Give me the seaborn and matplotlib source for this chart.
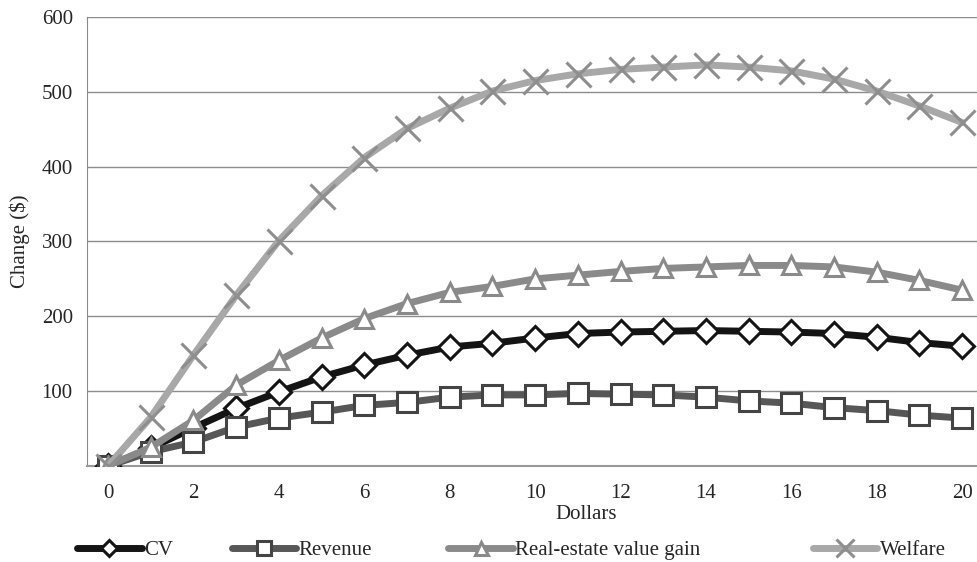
import matplotlib
matplotlib.use('Agg')
import matplotlib.pyplot as plt
import seaborn as sns
import numpy as np

# values
dollars = list(range(21))
cv = [0, 24, 51, 77, 99, 119, 135, 148, 159, 164, 171, 177, 179, 180, 181, 180, 179, 177, 172, 165, 160]
revenue = [0, 19, 32, 52, 64, 72, 81, 85, 92, 95, 95, 97, 96, 95, 92, 87, 84, 78, 74, 68, 64]
real_estate = [0, 25, 61, 108, 141, 171, 197, 217, 232, 240, 250, 255, 260, 264, 266, 268, 268, 266, 259, 248, 235]
welfare = [0, 65, 148, 228, 301, 361, 412, 451, 478, 501, 515, 524, 530, 533, 536, 533, 528, 517, 501, 481, 459]

series_names = ['CV', 'Revenue', 'Real-estate value gain', 'Welfare']
series_values = [cv, revenue, real_estate, welfare]

# stijl per reeks
line_colors = ['#141414', '#575757', '#8a8a8a', '#a8a8a8']
edge_colors = ['#141414', '#444444', '#8a8a8a', '#8e8e8e']
markers = ['D', 's', '^', 'x']
marker_sizes = [12, 14, 13, 18]

sns.set_style('white')
plt.rcParams['font.family'] = ['Liberation Serif', 'DejaVu Serif']

fig = plt.figure(figsize=(9.77, 5.62), dpi=100)
ax = fig.add_axes([0.0887, 0.1708, 0.918, 0.799])

for name, vals, lc, ec, mk, ms in zip(series_names, series_values, line_colors,
                                      edge_colors, markers, marker_sizes):
    sns.lineplot(x=dollars, y=vals, ax=ax, color=lc, linewidth=5, marker=mk,
                 markersize=ms, markerfacecolor='white', markeredgecolor=ec,
                 markeredgewidth=2.2, sort=False, label=name, zorder=3)

handles, labels = ax.get_legend_handles_labels()
ax.get_legend().remove()

ax.set_xlim(-0.5, 20.5)
ax.set_ylim(0, 600)
ax.set_xticks(range(0, 21, 2))
ax.set_xticks(np.arange(-0.5, 21, 1), minor=True)
ax.tick_params(axis='x', which='major', length=0, pad=13, labelsize=15)
ax.tick_params(axis='x', which='minor', length=6, width=1, color='#888888', direction='out')
ax.set_yticks(range(0, 601, 100))
ax.set_yticklabels([''] + [str(v) for v in range(100, 601, 100)])
ax.tick_params(axis='y', length=6, width=1, color='#888888', direction='out', pad=4, labelsize=15)

ax.grid(axis='y', color='#8c8c8c', linewidth=1)
ax.set_axisbelow(True)
for side in ['top', 'right']:
    ax.spines[side].set_visible(False)
ax.spines['left'].set_color('#888888')
ax.spines['bottom'].set_color('#999999')
ax.spines['bottom'].set_linewidth(1.5)

ax.set_xlabel('Dollars', fontsize=15)
ax.xaxis.set_label_coords(0.557, -0.086)
ax.set_ylabel('Change ($)', fontsize=15, labelpad=8)

# legenda onderaan, elk item apart geplaatst
legend_x = [0.079, 0.237, 0.459, 0.832]
for h, lab, lx in zip(handles, labels, legend_x):
    fig.legend([h], [lab], loc='center left', bbox_to_anchor=(lx, 0.021),
               frameon=False, fontsize=15, handlelength=3.1, markerscale=0.72,
               handletextpad=0.1, borderpad=0, borderaxespad=0)

fig.savefig('out.png', dpi=100)
